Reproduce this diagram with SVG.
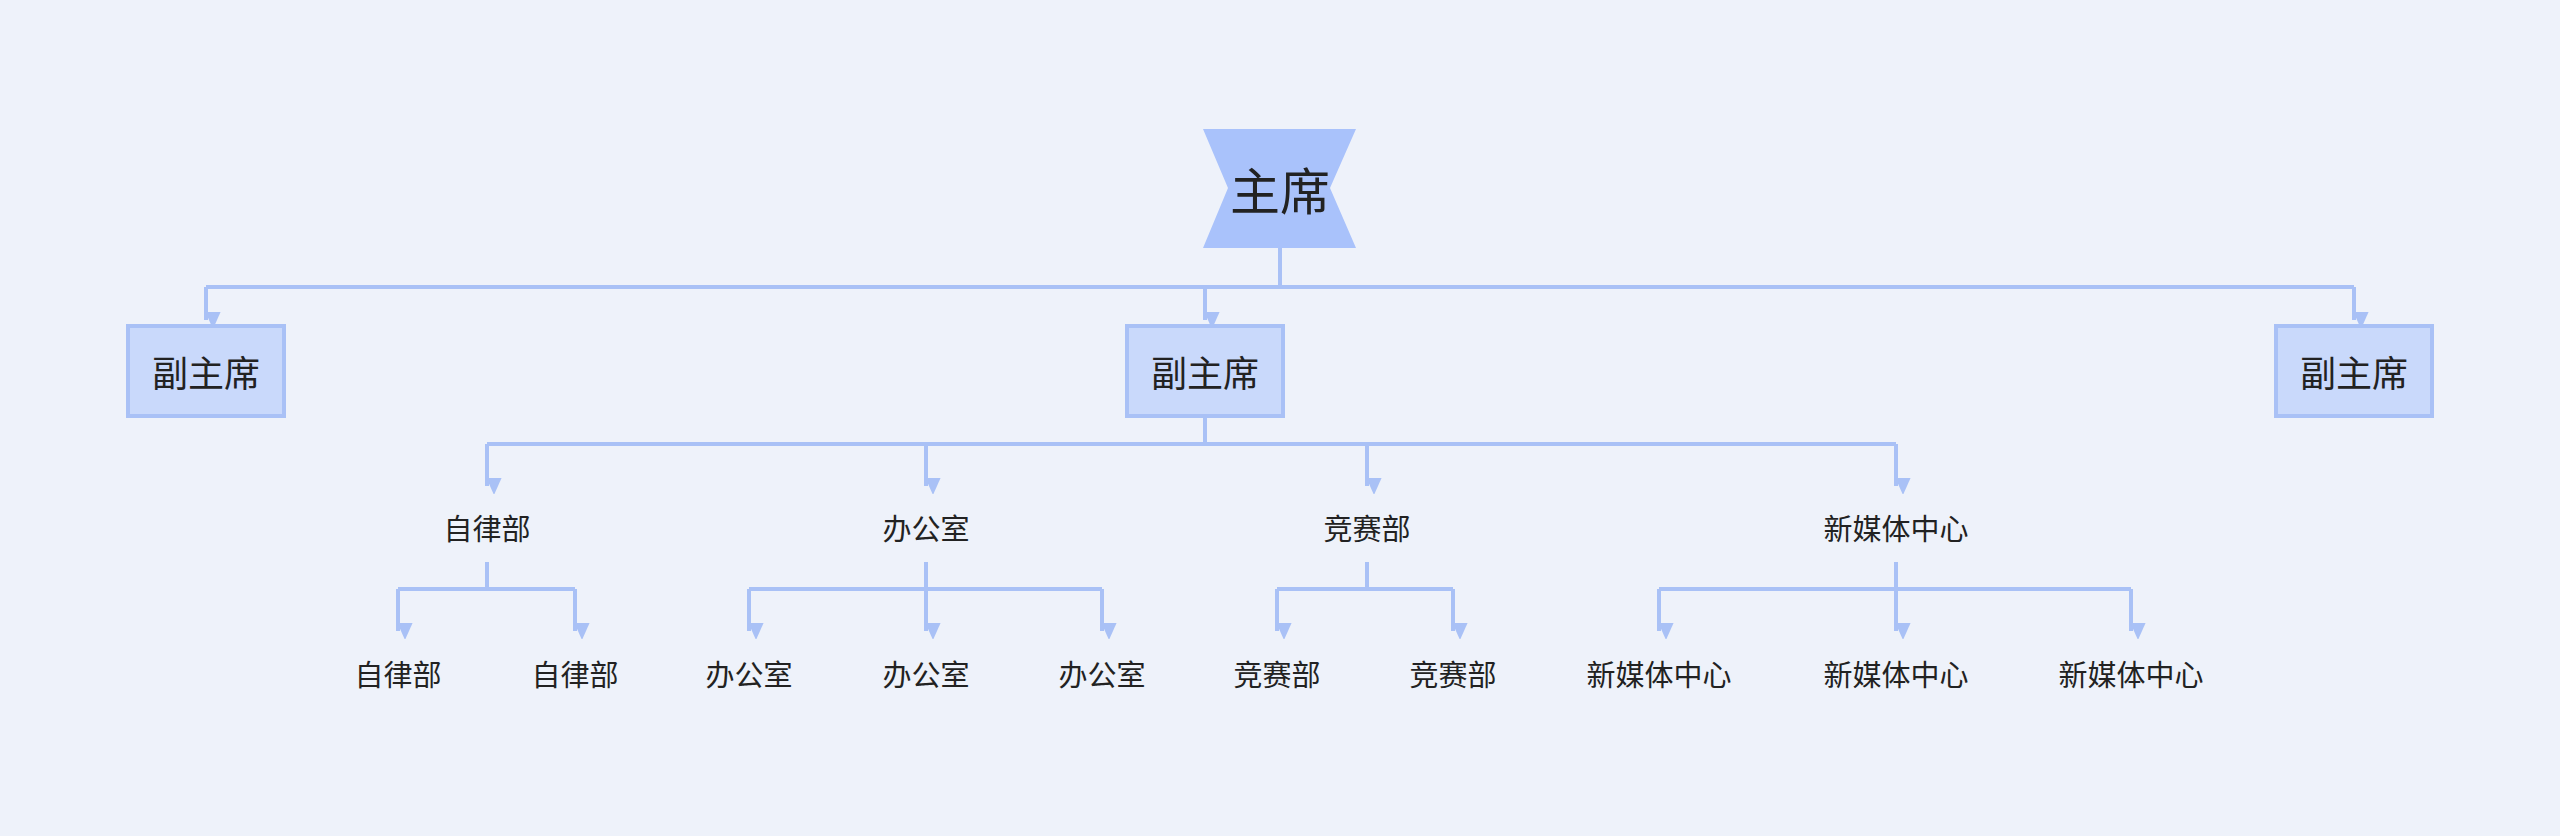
<svg xmlns="http://www.w3.org/2000/svg" width="2560" height="836" viewBox="0 0 2560 836">
<style>
.c{fill:none;stroke:#a9c1f6;stroke-width:4}
.t{font-family:"Noto Sans CJK SC",sans-serif;fill:#222;text-anchor:middle;dominant-baseline:central}
.box{fill:#c9d9fb;stroke:#a9c1f6;stroke-width:4}
</style>
<defs>
<marker id="a" markerUnits="userSpaceOnUse" markerWidth="16" markerHeight="18" refX="8" refY="16" orient="auto-start-reverse" viewBox="0 0 16 18">
<path d="M0,0 L16,0 L8,18 Z" fill="#a9c1f6" transform="rotate(-90 8 9)"/>
</marker>
</defs>
<rect width="2560" height="836" fill="#eef2fa"/>
<g id="connectors">
<path class="c" d="M1280,248 V287 M206,287 H2354"/>
<path class="c" marker-end="url(#a)" d="M206,287 V320"/>
<path class="c" marker-end="url(#a)" d="M1205,287 V320"/>
<path class="c" marker-end="url(#a)" d="M2354,287 V320"/>
<path class="c" d="M1205,416 V444 M487,444 H1896"/>
<path class="c" marker-end="url(#a)" d="M487,444 V486"/>
<path class="c" marker-end="url(#a)" d="M926,444 V486"/>
<path class="c" marker-end="url(#a)" d="M1367,444 V486"/>
<path class="c" marker-end="url(#a)" d="M1896,444 V486"/>
<path class="c" d="M487,562 V589 M398,589 H575"/>
<path class="c" marker-end="url(#a)" d="M398,589 V631"/>
<path class="c" marker-end="url(#a)" d="M575,589 V631"/>
<path class="c" d="M926,562 V589 M749,589 H1102"/>
<path class="c" marker-end="url(#a)" d="M749,589 V631"/>
<path class="c" marker-end="url(#a)" d="M926,589 V631"/>
<path class="c" marker-end="url(#a)" d="M1102,589 V631"/>
<path class="c" d="M1367,562 V589 M1277,589 H1453"/>
<path class="c" marker-end="url(#a)" d="M1277,589 V631"/>
<path class="c" marker-end="url(#a)" d="M1453,589 V631"/>
<path class="c" d="M1896,562 V589 M1659,589 H2131"/>
<path class="c" marker-end="url(#a)" d="M1659,589 V631"/>
<path class="c" marker-end="url(#a)" d="M1896,589 V631"/>
<path class="c" marker-end="url(#a)" d="M2131,589 V631"/>
</g>
<g id="root"><path d="M1203,129 H1356 L1330,188 L1356,248 H1203 L1228,188 Z" fill="#a9c2fb"/><text class="t" x="1280" y="188" font-size="50">主席</text></g>
<g id="vp1"><rect class="box" x="128" y="326" width="156" height="90"/><text class="t" x="206" y="371" font-size="36">副主席</text></g>
<g id="vp2"><rect class="box" x="1127" y="326" width="156" height="90"/><text class="t" x="1205" y="371" font-size="36">副主席</text></g>
<g id="vp3"><rect class="box" x="2276" y="326" width="156" height="90"/><text class="t" x="2354" y="371" font-size="36">副主席</text></g>
<g id="d1"><text class="t" x="487" y="527" font-size="29">自律部</text></g>
<g id="d2"><text class="t" x="926" y="527" font-size="29">办公室</text></g>
<g id="d3"><text class="t" x="1367" y="527" font-size="29">竞赛部</text></g>
<g id="d4"><text class="t" x="1896" y="527" font-size="29">新媒体中心</text></g>
<g id="l1"><text class="t" x="398" y="673" font-size="29">自律部</text></g>
<g id="l2"><text class="t" x="575" y="673" font-size="29">自律部</text></g>
<g id="l3"><text class="t" x="749" y="673" font-size="29">办公室</text></g>
<g id="l4"><text class="t" x="926" y="673" font-size="29">办公室</text></g>
<g id="l5"><text class="t" x="1102" y="673" font-size="29">办公室</text></g>
<g id="l6"><text class="t" x="1277" y="673" font-size="29">竞赛部</text></g>
<g id="l7"><text class="t" x="1453" y="673" font-size="29">竞赛部</text></g>
<g id="l8"><text class="t" x="1659" y="673" font-size="29">新媒体中心</text></g>
<g id="l9"><text class="t" x="1896" y="673" font-size="29">新媒体中心</text></g>
<g id="l10"><text class="t" x="2131" y="673" font-size="29">新媒体中心</text></g>
</svg>
